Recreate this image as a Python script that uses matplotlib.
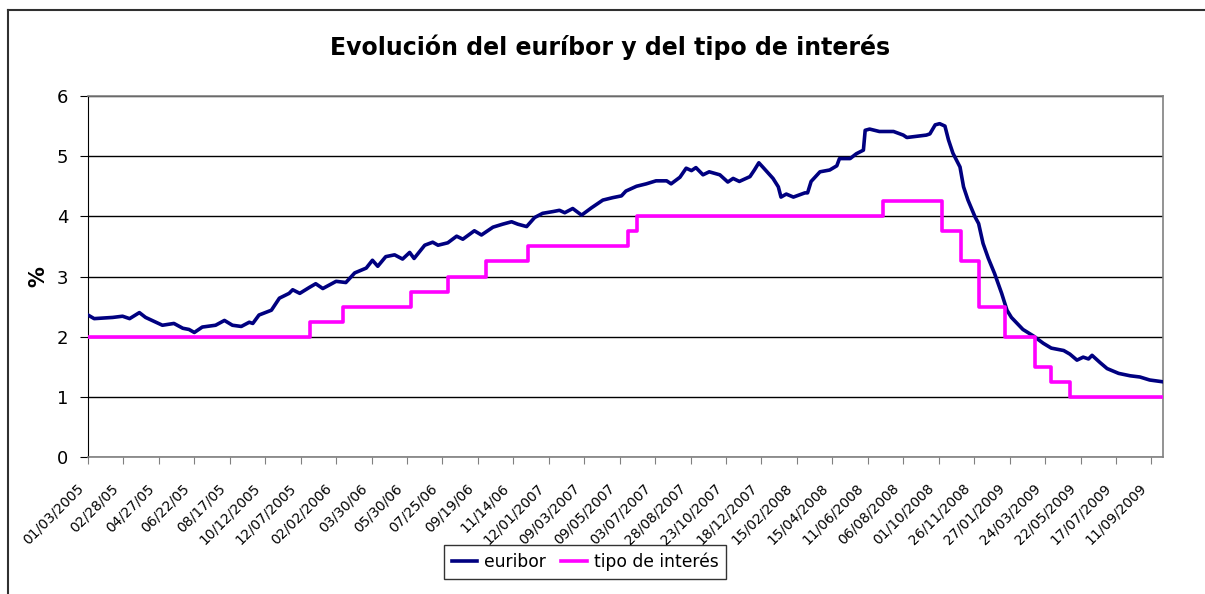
#!/usr/bin/env python3

import matplotlib
matplotlib.use("Agg")
import matplotlib.pyplot as plt
import matplotlib.transforms as mtransforms
from matplotlib.lines import Line2D

# observation index (business days from 03/01/2005) and value in %
euribor_idx = [0, 7, 28, 39, 47, 58, 65, 84, 97, 107, 114, 120, 129, 144, 154, 163, 173,
               182, 186, 193, 207, 216, 227, 231, 239, 250, 257, 265, 280, 291, 301, 314,
               321, 327, 336, 346, 355, 363, 368, 380, 389, 395, 406, 416, 423, 436, 444,
               457, 468, 478, 485, 495, 504, 513, 525, 532, 538, 547, 557, 568, 581, 592,
               602, 607, 619, 630, 641, 653, 658, 668, 675, 681, 686, 694, 701, 713, 722,
               728, 735, 747, 752, 757, 762, 773, 779, 782, 788, 796, 809, 812, 816, 826,
               837, 845, 848, 860, 867, 875, 877, 882, 893, 909, 920, 924, 946, 950, 956,
               961, 967, 971, 976, 984, 988, 993, 1001, 1005, 1010, 1016, 1023, 1031, 1037,
               1042, 1055, 1067, 1078, 1087, 1101, 1108, 1116, 1123, 1129, 1133, 1142, 1150,
               1163, 1176, 1187, 1198, 1213]
euribor_val = [2.36, 2.30, 2.32, 2.34, 2.30, 2.40, 2.32, 2.19, 2.22, 2.14, 2.12, 2.07, 2.16,
               2.19, 2.27, 2.19, 2.17, 2.24, 2.22, 2.36, 2.44, 2.64, 2.72, 2.78, 2.72, 2.82,
               2.88, 2.80, 2.92, 2.90, 3.06, 3.14, 3.27, 3.17, 3.33, 3.36, 3.29, 3.40, 3.30,
               3.52, 3.57, 3.52, 3.56, 3.67, 3.62, 3.76, 3.69, 3.82, 3.87, 3.91, 3.87, 3.83,
               3.98, 4.05, 4.08, 4.10, 4.06, 4.13, 4.02, 4.14, 4.27, 4.31, 4.34, 4.42, 4.50,
               4.54, 4.59, 4.59, 4.54, 4.65, 4.80, 4.76, 4.81, 4.69, 4.74, 4.69, 4.57, 4.63,
               4.58, 4.66, 4.77, 4.89, 4.81, 4.63, 4.49, 4.32, 4.37, 4.32, 4.39, 4.39, 4.58,
               4.74, 4.77, 4.84, 4.96, 4.96, 5.04, 5.10, 5.43, 5.45, 5.41, 5.41, 5.35, 5.31,
               5.35, 5.37, 5.52, 5.54, 5.50, 5.27, 5.05, 4.82, 4.49, 4.27, 3.99, 3.88, 3.55,
               3.30, 3.05, 2.72, 2.44, 2.32, 2.12, 2.01, 1.89, 1.81, 1.77, 1.71, 1.61, 1.66,
               1.63, 1.69, 1.57, 1.47, 1.39, 1.35, 1.33, 1.28, 1.25]

tipo_idx = [0, 250, 288, 364, 406, 449, 496, 609, 619, 897, 964, 985, 1006, 1035, 1069,
            1087, 1108, 1213]
tipo_val = [2.00, 2.25, 2.50, 2.75, 3.00, 3.25, 3.50, 3.75, 4.00, 4.25, 3.75, 3.25, 2.50,
            2.00, 1.50, 1.25, 1.00, 1.00]

tick_labels = ['01/03/2005', '02/28/05', '04/27/05', '06/22/05', '08/17/05', '10/12/2005',
               '12/07/2005', '02/02/2006', '03/30/06', '05/30/06', '07/25/06', '09/19/06',
               '11/14/06', '12/01/2007', '09/03/2007', '09/05/2007', '03/07/2007',
               '28/08/2007', '23/10/2007', '18/12/2007', '15/02/2008', '15/04/2008',
               '11/06/2008', '06/08/2008', '01/10/2008', '26/11/2008', '27/01/2009',
               '24/03/2009', '22/05/2009', '17/07/2009', '11/09/2009']
tick_step = 40
n_obs = 1213

fig = plt.figure(figsize=(12.05, 5.94), dpi=100)
ax = fig.add_axes([0.0730, 0.2306, 0.8921, 0.6078])

ax.plot(euribor_idx, euribor_val, color='#000080', lw=2.6, label='euribor', zorder=3)
ax.step(tipo_idx, tipo_val, where='post', color='#FF00FF', lw=2.6,
        label='tipo de interés', zorder=3)

ax.set_xlim(0, n_obs)
ax.set_ylim(0, 6)
ax.set_yticks(range(7))
ax.yaxis.grid(True, color='black', lw=1)
ax.set_axisbelow(True)

ticks = [i * tick_step for i in range(len(tick_labels))]
ax.set_xticks(ticks)
ax.set_xticklabels(tick_labels, rotation=45, ha='right', va='center',
                   rotation_mode='anchor', fontsize=10)
ax.tick_params(axis='x', length=5, color='#808080', pad=16)
ax.tick_params(axis='y', length=6, labelsize=13, pad=8)
shift = mtransforms.ScaledTranslation(-7 / 100, 0, fig.dpi_scale_trans)
for lab in ax.get_xticklabels():
    lab.set_transform(lab.get_transform() + shift)

for s in ['top', 'right', 'bottom']:
    ax.spines[s].set_color('#808080')
    ax.spines[s].set_linewidth(1.2)
ax.spines['left'].set_color('black')

ax.set_ylabel('%', fontsize=15, fontweight='bold', labelpad=6)
fig.text(0.506, 0.921, 'Evolución del euríbor y del tipo de interés',
         ha='center', va='center', fontsize=17, fontweight='bold')

leg = fig.legend(loc='center', bbox_to_anchor=(0.4855, 0.0544), ncol=2,
                 fontsize=12.3, frameon=True, fancybox=False, handlelength=1.5,
                 handletextpad=0.4, columnspacing=0.9, borderpad=0.45,
                 borderaxespad=0)
leg.get_frame().set_edgecolor('black')
leg.get_frame().set_linewidth(1)
leg.set_zorder(5)

# outer chart frame (top and left edges visible)
fig.add_artist(Line2D([8 / 1205, 1.05], [1 - 10 / 594, 1 - 10 / 594],
                      transform=fig.transFigure, color='#303030', lw=1.5))
fig.add_artist(Line2D([8 / 1205, 8 / 1205], [-0.05, 1 - 10 / 594],
                      transform=fig.transFigure, color='#303030', lw=1.5))

fig.savefig('out.png', dpi=100)
